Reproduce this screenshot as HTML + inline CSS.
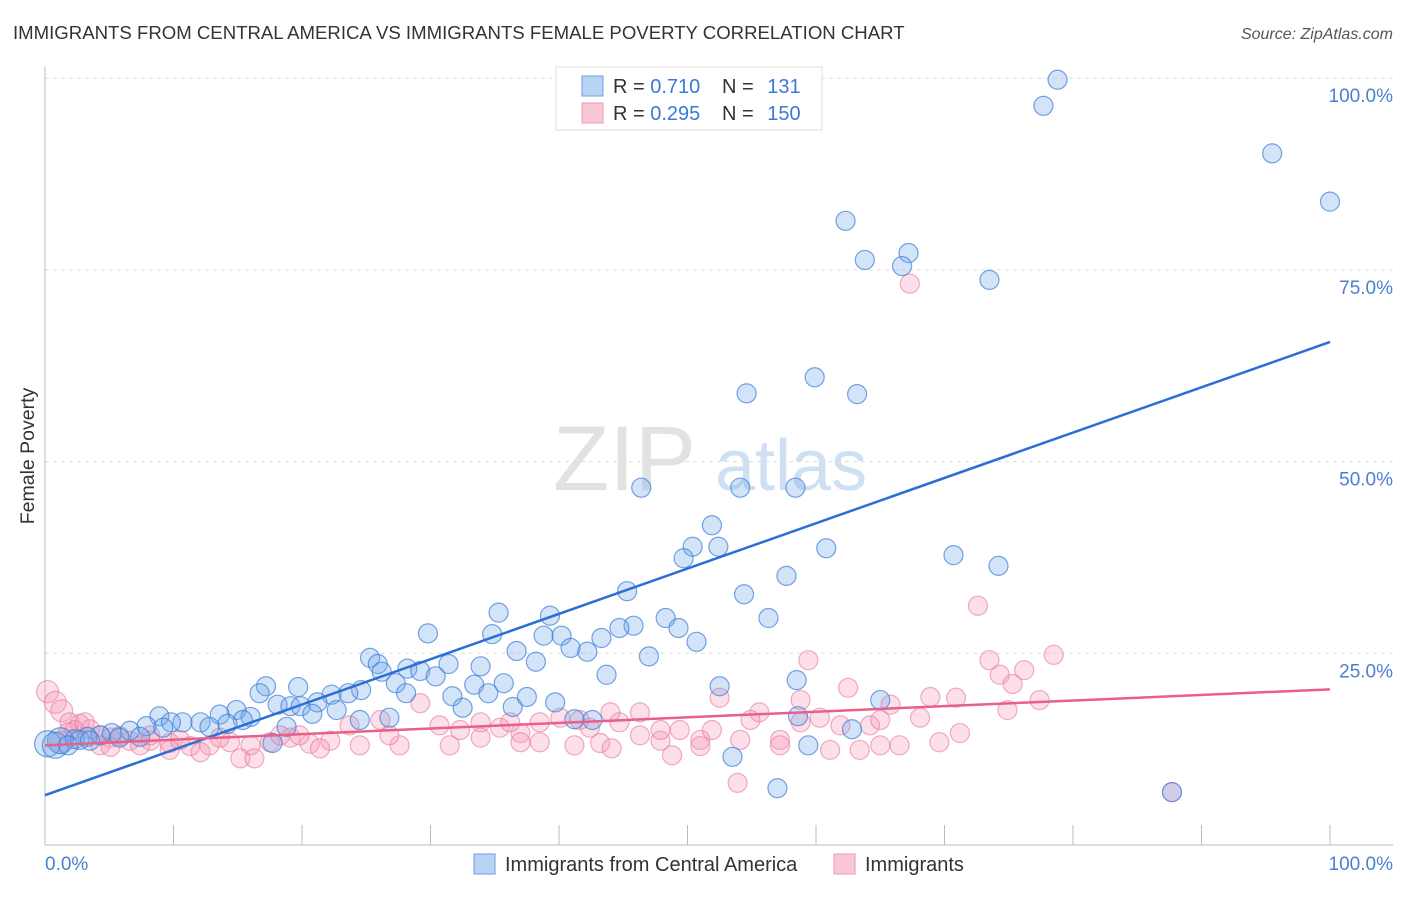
<!DOCTYPE html>
<html><head><meta charset="utf-8"><style>
body{margin:0;background:#fff;font-family:"Liberation Sans",sans-serif;}
svg text{font-family:"Liberation Sans",sans-serif;}
</style></head><body>
<svg id="chart" width="1406" height="892">
<text x="13" y="39" font-size="18.6" fill="#333">IMMIGRANTS FROM CENTRAL AMERICA VS IMMIGRANTS FEMALE POVERTY CORRELATION CHART</text>
<text x="1393" y="39" font-size="16" font-style="italic" fill="#555" text-anchor="end">Source: ZipAtlas.com</text>
<text x="34" y="456" font-size="19.5" fill="#333" text-anchor="middle" transform="rotate(-90 34 456)">Female Poverty</text>
<g><text x="553" y="490" font-size="92" font-family="Liberation Serif" fill="#e2e2e2">ZIP</text><text x="715" y="490" font-size="72" fill="#cfe0f3">atlas</text></g>
<g id="grid"></g><g id="axes"></g><g id="pts"></g><g id="trend"></g>
<g>
<rect x="556" y="67" width="266" height="63" fill="#fff" stroke="#ddd"/>
<rect x="582" y="76" width="21" height="20" fill="#b9d3f5" stroke="#6a9fe0"/>
<rect x="582" y="103" width="21" height="20" fill="#f9c7d6" stroke="#ec9ab4"/>
<text x="613" y="93" font-size="20" fill="#333">R = <tspan fill="#3b78d8">0.710</tspan></text>
<text x="722" y="93" font-size="20" fill="#333">N = <tspan dx="8" fill="#3b78d8">131</tspan></text>
<text x="613" y="120" font-size="20" fill="#333">R = <tspan fill="#3b78d8">0.295</tspan></text>
<text x="722" y="120" font-size="20" fill="#333">N = <tspan dx="8" fill="#3b78d8">150</tspan></text>
</g>
<g>
<rect x="474" y="854" width="21" height="20" fill="#b9d3f5" stroke="#6a9fe0"/>
<text x="505" y="871" font-size="20" fill="#333">Immigrants from Central America</text>
<rect x="834" y="854" width="21" height="20" fill="#f9c7d6" stroke="#ec9ab4"/>
<text x="865" y="871" font-size="20" fill="#333">Immigrants</text>
</g>
</svg>
<script>
const blueX=[78.8,77.7,95.5,100,62.3,67.2,63.8,66.7,73.5,59.9,54.6,63.2,46.4,54.1,58.4,51.9,50.4,52.4,49.7,60.8,70.7,74.2,57.7,45.3,54.4,35.3,39.3,56.3,48.3,45.8,49.3,44.7,29.8,34.8,38.8,40.2,50.7,43.3,40.9,42.2,36.7,38.2,25.3,25.9,47.0,28.2,31.4,33.9,26.2,29.2,30.4,43.7,27.3,33.4,17.2,19.7,24.6,28.1,35.7,37.5,31.7,34.5,52.5,39.7,36.4,16.7,23.6,22.3,21.2,22.7,18.1,19.1,19.9,20.8,32.5,14.9,13.6,16.0,8.9,10.7,12.1,9.8,15.4,14.2,12.8,7.9,9.2,6.6,5.2,4.3,3.3,2.3,1.2,0.2,0.8,2.7,1.8,3.5,5.8,7.4,17.7,18.8,24.5,26.8,41.2,42.6,62.8,65.0,58.6,53.5,59.4,57.0,58.5,87.7];
const blueY=[99.8,96.4,90.2,83.9,81.4,77.2,76.3,75.5,73.7,61.0,58.9,58.8,46.6,46.6,46.6,41.7,38.9,38.9,37.4,38.7,37.8,36.4,35.1,33.1,32.7,30.3,29.9,29.6,29.6,28.6,28.3,28.3,27.6,27.5,27.3,27.3,26.5,27.0,25.7,25.2,25.3,23.9,24.4,23.6,24.6,23.0,23.6,23.3,22.6,22.7,22.0,22.2,21.1,20.9,20.7,20.6,20.2,19.8,21.1,19.3,19.4,19.8,20.7,18.6,18.0,19.8,19.8,19.6,18.6,17.6,18.3,18.1,18.1,17.1,17.9,17.6,17.0,16.7,16.8,16.0,16.0,16.0,16.3,15.8,15.4,15.5,15.3,14.9,14.6,14.3,14.1,13.8,13.6,13.2,13.0,13.7,13.0,13.6,14.0,14.1,13.3,15.4,16.3,16.6,16.4,16.3,15.1,18.9,16.8,11.5,13.0,7.4,21.5,6.9];
const pinkX=[0.2,0.8,1.3,1.9,2.7,3.5,4.3,5.1,6.6,8.2,9.7,11.3,12.8,14.4,16.0,17.5,19.1,20.6,22.2,23.7,26.1,27.6,29.2,30.7,32.3,33.9,35.4,37.0,38.5,40.1,41.6,43.2,44.7,46.3,47.9,49.4,51.0,52.5,54.1,55.6,57.2,58.8,59.4,60.3,62.5,64.2,65.8,67.3,68.9,70.9,72.6,73.5,74.3,75.3,76.2,78.5,74.9,71.2,69.6,77.4,15.2,16.3,12.1,9.7,7.4,21.4,24.5,31.5,37.0,41.2,44.1,48.8,51.0,53.9,61.1,63.4,65.0,66.5,57.2,46.3,47.9,19.8,18.3,5.8,4.3,2.3,3.1,1.8,5.1,1.2,8.2,10.5,13.6,26.8,33.9,36.2,38.5,44.0,42.4,51.9,54.9,61.9,65.0,68.1,58.8,87.7];
const pinkY=[20.0,18.6,17.5,16.0,15.8,15.1,14.3,14.0,13.6,13.6,13.3,12.9,13.0,13.4,13.0,13.4,14.0,13.2,13.6,15.6,16.3,13.0,18.5,15.6,15.0,14.0,15.3,14.6,13.4,16.6,16.3,13.3,16.0,17.3,13.6,15.0,13.7,19.2,13.7,17.3,13.7,18.9,24.1,16.6,20.5,15.6,18.3,73.2,19.3,19.2,31.2,24.1,22.2,21.0,22.8,24.8,17.6,14.6,13.4,18.9,11.3,11.3,12.1,12.4,13.0,12.6,13.0,13.0,13.4,13.0,12.6,11.7,12.9,8.1,12.4,12.4,13.0,13.0,13.0,14.3,15.0,14.3,14.3,14.2,13.0,15.0,16.0,14.7,12.8,13.4,14.3,13.7,14.0,14.3,16.0,16.0,16.0,17.3,15.3,15.0,16.3,15.6,16.3,16.6,16.0,6.9];
const blueTrend=[6.5,65.6];
const pinkTrend=[13.0,20.3];
const yTicks=[25,50,75,100];
const yTickLabels=["25.0%","50.0%","75.0%","100.0%"];
const xTicks=[0,10,20,30,40,50,60,70,80,90,100];

const NS="http://www.w3.org/2000/svg";
const X=v=>45+v*12.85;
const Y=v=>845-v*7.668;
function mk(tag,attrs,parent){const e=document.createElementNS(NS,tag);for(const k in attrs)e.setAttribute(k,attrs[k]);document.getElementById(parent).appendChild(e);return e;}

yTicks.forEach((t,i)=>{
  const l=mk('line',{x1:45,x2:1393,y1:Y(t),y2:Y(t),stroke:'#ddd','stroke-dasharray':'4,4'},'grid');
  
  
  const tx=mk('text',{x:1393,y:Y(t)+24,'font-size':19,fill:'#4a7fd0','text-anchor':'end'},'grid');
  tx.textContent=yTickLabels[i];
  
  
});
let a=mk('line',{x1:45,x2:45,y1:67,y2:845,stroke:'#bbb'},'axes');


a=mk('line',{x1:45,x2:1393,y1:845,y2:845,stroke:'#bbb'},'axes');


xTicks.forEach(t=>{
  const l=mk('line',{x1:X(t),x2:X(t),y1:825,y2:845,stroke:'#bbb'},'axes');
  
  
});
let t0=mk('text',{x:45,y:870,'font-size':19,fill:'#4a7fd0'},'axes');t0.textContent='0.0%';


let t1=mk('text',{x:1393,y:870,'font-size':19,fill:'#4a7fd0','text-anchor':'end'},'axes');t1.textContent='100.0%';



pinkX.forEach((x,i)=>{
  const c=mk('circle',{cx:X(x),cy:Y(pinkY[i]),r:x<1.5?11:9.5,fill:'rgba(244,150,180,0.3)',stroke:'rgba(232,120,155,0.6)','stroke-width':1.2},'pts');
  
  
});
blueX.forEach((x,i)=>{
  const c=mk('circle',{cx:X(x),cy:Y(blueY[i]),r:x<1.5?13:9.5,fill:'rgba(110,165,235,0.3)',stroke:'rgba(60,125,215,0.7)','stroke-width':1.2},'pts');
  
  
});
let bl=mk('line',{x1:X(0),y1:Y(blueTrend[0]),x2:X(100),y2:Y(blueTrend[1]),stroke:'#2a6fd6','stroke-width':2.5},'trend');


let pl=mk('line',{x1:X(0),y1:Y(pinkTrend[0]),x2:X(100),y2:Y(pinkTrend[1]),stroke:'#e8608a','stroke-width':2.5},'trend');


</script>
</body></html>
